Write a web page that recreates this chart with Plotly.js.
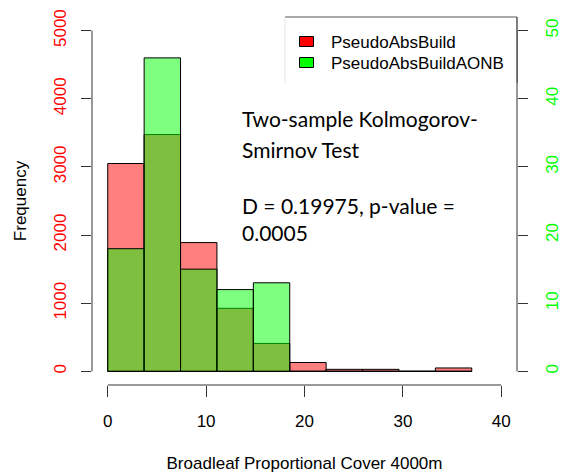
<!DOCTYPE html>
<html>
<head>
<meta charset="utf-8">
<script src="https://cdn.plot.ly/plotly-3.0.1.min.js"></script>
<style>
  html, body { margin: 0; padding: 0; background: #ffffff; }
  #chart { width: 569px; height: 474px; }
</style>
</head>
<body>
<div id="chart"></div>
<script>
// Histogram bins (equal width, starting at 0)
const binStart = 0;
const binWidth = 3.7;
const binCount = 10;

// Counts per bin for each sample
const pseudoAbsBuild = [3050, 3475, 1890, 925, 410, 130, 30, 30, 0, 50];
const pseudoAbsBuildAONB = [18, 46, 15, 12, 13, 0, 0, 0, 0, 0];

const seriesNames = ['PseudoAbsBuild', 'PseudoAbsBuildAONB'];
const xTicks = [0, 10, 20, 30, 40];
const leftTicks = [0, 1000, 2000, 3000, 4000, 5000];
const rightTicks = [0, 10, 20, 30, 40, 50];

const statLines = [
  'Two-sample Kolmogorov-',
  'Smirnov Test',
  'D = 0.19975, p-value =',
  '0.0005'
];

const binCenters = Array.from({length: binCount}, (_, i) => binStart + binWidth * (i + 0.5));
const binEnd = binStart + binWidth * binCount;

const rFont = 'Liberation Sans, Arial, sans-serif';
const axisCol = '#333333';

const traces = [
  {
    type: 'bar',
    name: seriesNames[0],
    x: binCenters,
    y: pseudoAbsBuild,
    width: binWidth,
    marker: {color: 'rgba(255,0,0,0.5)', line: {color: '#000000', width: 1}},
    yaxis: 'y',
    showlegend: false,
    hoverinfo: 'x+y'
  },
  {
    type: 'bar',
    name: seriesNames[1],
    x: binCenters,
    y: pseudoAbsBuildAONB,
    width: binWidth,
    marker: {color: 'rgba(0,255,0,0.5)', line: {color: '#000000', width: 1}},
    yaxis: 'y2',
    showlegend: false,
    hoverinfo: 'x+y'
  }
];

const pxX = px => (px - 92) / 425;
const pxY = py => (385 - py) / 368;

const shapes = [
  // axis lines spanning first to last tick
  {type: 'line', xref: 'x', yref: 'paper', x0: xTicks[0], x1: xTicks[xTicks.length - 1], y0: 0, y1: 0,
   line: {color: axisCol, width: 1}},
  {type: 'line', xref: 'paper', yref: 'y', x0: 0, x1: 0, y0: leftTicks[0], y1: leftTicks[leftTicks.length - 1],
   line: {color: axisCol, width: 1}},
  {type: 'line', xref: 'paper', yref: 'y2', x0: 1, x1: 1, y0: rightTicks[0], y1: rightTicks[rightTicks.length - 1],
   line: {color: axisCol, width: 1}},
  // zero-height bins still show their outline along the baseline
  {type: 'line', xref: 'x', yref: 'y', x0: binStart, x1: binEnd, y0: 0, y1: 0,
   line: {color: '#000000', width: 1}},
  // legend frame
  {type: 'rect', xref: 'paper', yref: 'paper', x0: pxX(285), x1: 1, y0: pxY(83), y1: 1,
   fillcolor: '#ffffff', line: {width: 0}, layer: 'above'},
  {type: 'line', xref: 'paper', yref: 'paper', x0: pxX(285), x1: 1, y0: 1, y1: 1,
   line: {color: '#555555', width: 1.2}, layer: 'above'},
  {type: 'line', xref: 'paper', yref: 'paper', x0: 1, x1: 1, y0: pxY(83), y1: 1,
   line: {color: '#555555', width: 1.5}, layer: 'above'},
  {type: 'line', xref: 'paper', yref: 'paper', x0: pxX(285), x1: pxX(285), y0: pxY(83), y1: 1,
   line: {color: '#e4e4e4', width: 1}, layer: 'above'},
  // legend swatches
  {type: 'rect', xref: 'paper', yref: 'paper', x0: pxX(299.5), x1: pxX(313.5), y0: pxY(46.5), y1: pxY(36.5),
   fillcolor: '#ff0000', line: {color: '#000000', width: 1}, layer: 'above'},
  {type: 'rect', xref: 'paper', yref: 'paper', x0: pxX(299.5), x1: pxX(313.5), y0: pxY(67.5), y1: pxY(57.5),
   fillcolor: '#00ff00', line: {color: '#000000', width: 1}, layer: 'above'}
];

const annotations = [
  {xref: 'paper', yref: 'paper', x: pxX(329), y: pxY(42.5), xanchor: 'left', yanchor: 'middle',
   text: seriesNames[0], showarrow: false, font: {family: rFont, size: 17, color: '#000000'}},
  {xref: 'paper', yref: 'paper', x: pxX(329), y: pxY(63.5), xanchor: 'left', yanchor: 'middle',
   text: seriesNames[1], showarrow: false, font: {family: rFont, size: 17, color: '#000000'}}
];

const statY = [118, 149, 205, 233];
statLines.forEach((t, i) => {
  annotations.push({
    xref: 'paper', yref: 'paper', x: pxX(240), y: pxY(statY[i]), xanchor: 'left', yanchor: 'middle',
    text: t, showarrow: false, font: {family: 'Lato, Carlito, sans-serif', size: 21, color: '#000000'}
  });
});

const layout = {
  width: 569,
  height: 474,
  margin: {l: 92, r: 52, t: 17, b: 89, pad: 0},
  paper_bgcolor: '#ffffff',
  plot_bgcolor: '#ffffff',
  barmode: 'overlay',
  showlegend: false,
  font: {family: rFont, size: 17, color: '#000000'},
  xaxis: {
    range: [-1.6, 41.6],
    tickvals: xTicks,
    ticks: 'outside', ticklen: 11, tickcolor: axisCol, tickwidth: 1,
    showline: false, showgrid: false, zeroline: false,
    tickfont: {family: rFont, size: 17, color: '#000000'},
    ticklabelstandoff: 10,
    title: {text: 'Broadleaf Proportional Cover 4000m', font: {family: rFont, size: 17, color: '#000000'}, standoff: 26},
    automargin: false
  },
  yaxis: {
    range: [-200, 5200],
    tickvals: leftTicks,
    ticks: 'outside', ticklen: 10, tickcolor: axisCol, tickwidth: 1,
    showline: false, showgrid: false, zeroline: false,
    tickangle: -90,
    tickfont: {family: rFont, size: 17, color: '#ff0000'},
    ticklabelstandoff: 8,
    title: {text: 'Frequency', font: {family: rFont, size: 17, color: '#000000'}, standoff: 20},
    automargin: false
  },
  yaxis2: {
    range: [-2, 52],
    tickvals: rightTicks,
    overlaying: 'y',
    side: 'right',
    ticks: 'outside', ticklen: 10, tickcolor: axisCol, tickwidth: 1,
    showline: false, showgrid: false, zeroline: false,
    tickangle: -90,
    tickfont: {family: rFont, size: 17, color: '#00ff00'},
    ticklabelstandoff: 10,
    automargin: false
  },
  shapes: shapes,
  annotations: annotations
};

Plotly.newPlot('chart', traces, layout, {displayModeBar: false, staticPlot: true});
</script>
</body>
</html>
